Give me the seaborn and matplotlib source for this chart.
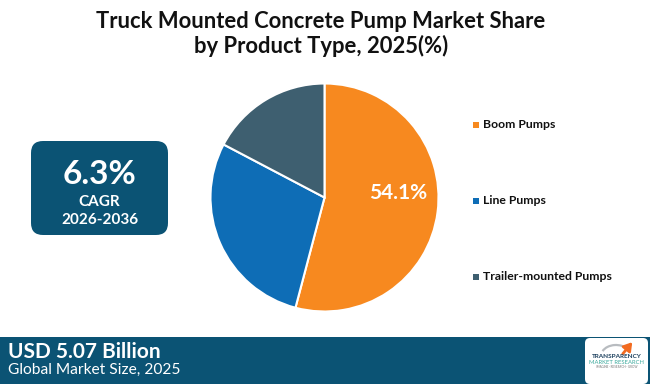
import matplotlib
matplotlib.use("Agg")
import matplotlib.pyplot as plt
from matplotlib.patches import FancyBboxPatch, Rectangle, Arc
import seaborn as sns

sns.set_theme(style="white")
plt.rcParams['font.family'] = ['Lato', 'DejaVu Sans']

# ---- data ----
categories = ["Boom Pumps", "Line Pumps", "Trailer-mounted Pumps"]
shares = [54.1, 28.6, 17.3]
colors = ["#F7891F", "#0E6DB6", "#3E5F70"]
title_lines = ["Truck Mounted Concrete Pump Market Share", "by Product Type, 2025(%)"]
cagr_value = "6.3%"
cagr_label = "CAGR"
cagr_period = "2026-2036"
market_value = "USD 5.07 Billion"
market_label = "Global Market Size, 2025"

W, H = 650, 384
fig = plt.figure(figsize=(W / 100, H / 100), dpi=100)
fig.patch.set_facecolor("white")
bg = fig.add_axes([0, 0, 1, 1])
bg.set_xlim(0, W)
bg.set_ylim(H, 0)
bg.axis("off")

palette = sns.color_palette(colors)

# title
bg.text(321, 22, title_lines[0], ha="center", va="center", fontsize=15.8,
        fontweight="bold", color="#111111")
bg.text(321, 46, title_lines[1], ha="center", va="center", fontsize=15.8,
        fontweight="bold", color="#111111")

# pie
cx, cy, r = 324.5, 197.5, 114
pax = fig.add_axes([(cx - r) / W, (H - cy - r) / H, 2 * r / W, 2 * r / H])
wedges, _ = pax.pie(shares, colors=palette, startangle=90, counterclock=False,
                    wedgeprops=dict(edgecolor="white", linewidth=1.5))
pax.set_xlim(-1, 1)
pax.set_ylim(-1, 1)
pax.set_aspect("equal")
pax.axis("off")
pax.text(0.65, 0.04, f"{shares[0]}%", ha="center", va="center", fontsize=15,
         fontweight="bold", color="white")

# legend
leg_y = [125, 201, 277]
for cat, col, y in zip(categories, colors, leg_y):
    bg.add_patch(Rectangle((473, y - 3), 6, 6, color=col, lw=0))
    bg.text(483, y, cat, ha="left", va="center", fontsize=8.8,
            fontweight="bold", color="#111111")

# CAGR box
bg.add_patch(FancyBboxPatch((31, 141), 137, 94,
                            boxstyle="round,pad=0,rounding_size=12",
                            facecolor="#0B5374", edgecolor="none"))
bg.text(99.5, 175, cagr_value, ha="center", va="center", fontsize=24,
        fontweight="bold", color="white")
bg.text(99.5, 202, cagr_label, ha="center", va="center", fontsize=11,
        fontweight="bold", color="white")
bg.text(99.5, 219.5, cagr_period, ha="center", va="center", fontsize=11,
        fontweight="bold", color="white")

# footer band
bg.add_patch(Rectangle((0, 337), W, H - 337, facecolor="#0B5374", edgecolor="none"))
bg.text(8, 352, market_value, ha="left", va="center", fontsize=15,
        fontweight="bold", color="white")
bg.text(8, 370, market_label, ha="left", va="center", fontsize=11.2,
        color="white")

# logo
bg.add_patch(FancyBboxPatch((585, 338), 63, 46,
                            boxstyle="round,pad=0,rounding_size=5",
                            facecolor="white", edgecolor="none"))
bg.add_patch(Arc((616, 356), 30, 22, theta1=200, theta2=330,
                 color="#B8BCC0", lw=1.6))
bg.annotate("", xy=(634, 340), xytext=(621, 356),
            arrowprops=dict(arrowstyle="-|>,head_width=0.25,head_length=0.4",
                            color="#F26B21", lw=2))
bg.text(616.5, 357, "TRANSPARENCY", ha="center", va="center", fontsize=4.6,
        fontweight="bold", color="#1A3E5C")
bg.text(616.5, 363, "MARKET RESEARCH", ha="center", va="center", fontsize=4.2,
        color="#3BA99C")
bg.text(616.5, 367.5, "IMAGINE · RESEARCH · GROW", ha="center", va="center",
        fontsize=2.2, color="#777777")

fig.savefig("out.png", dpi=100)
